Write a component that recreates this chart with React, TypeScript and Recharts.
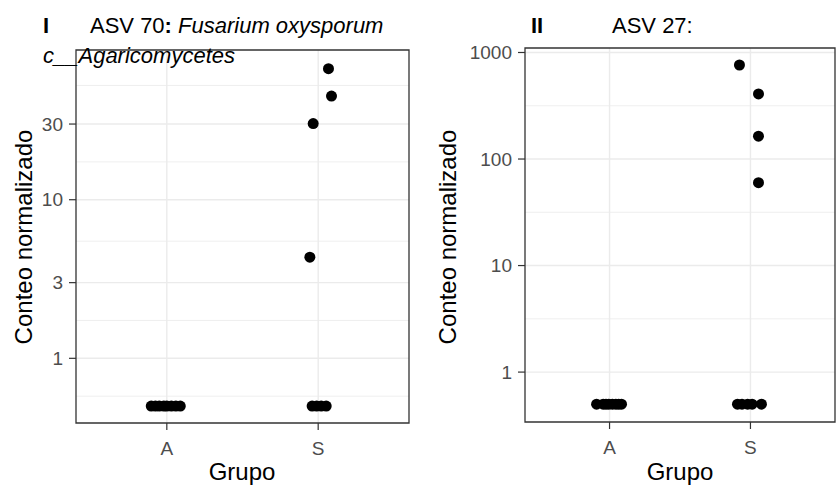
import {
  ScatterChart,
  Scatter,
  XAxis,
  YAxis,
  CartesianGrid,
  ReferenceArea,
} from "recharts";

const groups = ["A", "S"];

// ASV 70 (panel I)
const asv70JitterA = [-0.103, -0.075, -0.05, -0.02, 0.0, 0.03, 0.06, 0.089];
const asv70CountA = [0.5, 0.5, 0.5, 0.5, 0.5, 0.5, 0.5, 0.5];
const asv70JitterS = [0.068, 0.088, -0.033, -0.055, -0.04, -0.01, 0.02, 0.053];
const asv70CountS = [67, 45, 30.2, 4.34, 0.5, 0.5, 0.5, 0.5];
const asv70Ticks = [1, 3, 10, 30];
const asv70Minor = [0.577, 1.732, 5.477, 17.32, 52.5];
const asv70Domain = [0.391, 87.9];

// ASV 27 (panel II)
const asv27JitterA = [-0.092, -0.045, -0.025, -0.005, 0.02, 0.045, 0.065, 0.085];
const asv27CountA = [0.5, 0.5, 0.5, 0.5, 0.5, 0.5, 0.5, 0.5];
const asv27JitterS = [-0.078, 0.057, 0.057, 0.057, -0.092, -0.06, -0.02, 0.012, 0.078];
const asv27CountS = [763, 408, 164, 60, 0.5, 0.5, 0.5, 0.5, 0.5];
const asv27Ticks = [1, 10, 100, 1000];
const asv27Minor = [3.162, 31.62, 316.2];
const asv27Domain = [0.34, 1102];

const build = (group: number, jit: number[], vals: number[]) =>
  vals.map((v, i) => ({ x: group + 1 + jit[i], y: v }));

const Dot = (p: any) => <circle cx={p.cx} cy={p.cy} r={5.5} fill="#000" />;

const font = "'Liberation Sans', Arial, sans-serif";
const tickStyle = { fill: "#4D4D4D", fontSize: 19, fontFamily: font };

function Panel({ width, yWidth, top, bottom, right, domain, ticks, minor, data }: any) {
  return (
    <ScatterChart
      width={width}
      height={487}
      margin={{ top, right, bottom, left: 0 }}
    >
      <CartesianGrid
        stroke="#EBEBEB"
        strokeWidth={0.8}
        vertical={false}
        horizontalValues={minor}
      />
      <CartesianGrid
        stroke="#EBEBEB"
        strokeWidth={1.4}
        horizontalValues={ticks}
        verticalValues={[1, 2]}
      />
      <XAxis
        type="number"
        dataKey="x"
        domain={[0.4, 2.6]}
        ticks={[1, 2]}
        tickFormatter={(v: number) => groups[v - 1]}
        allowDataOverflow
        height={40}
        axisLine={false}
        tickSize={7}
        tickMargin={12}
        tickLine={{ stroke: "#333333", strokeWidth: 1.2 }}
        tick={tickStyle}
      />
      <YAxis
        type="number"
        dataKey="y"
        scale="log"
        domain={domain}
        ticks={ticks}
        allowDataOverflow
        width={yWidth}
        axisLine={false}
        tickSize={7}
        tickMargin={6}
        tickLine={{ stroke: "#333333", strokeWidth: 1.2 }}
        tick={tickStyle}
      />
      {data.map((d: any, i: number) => (
        <Scatter key={i} data={d} shape={Dot} isAnimationActive={false} />
      ))}
      <ReferenceArea
        x1={0.4}
        x2={2.6}
        y1={domain[0]}
        y2={domain[1]}
        fill="none"
        stroke="#333333"
        strokeWidth={1.3}
        ifOverflow="visible"
      />
    </ScatterChart>
  );
}

export default function App() {
  return (
    <div style={{ position: "absolute", left: 0, top: 0, width: 836, height: 487, background: "#fff" }}>
      <div style={{ position: "absolute", left: 0, top: 0 }}>
        <Panel
          width={420}
          yWidth={76}
          top={50}
          bottom={24}
          right={11}
          domain={asv70Domain}
          ticks={asv70Ticks}
          minor={asv70Minor}
          data={[build(0, asv70JitterA, asv70CountA), build(1, asv70JitterS, asv70CountS)]}
        />
      </div>
      <div style={{ position: "absolute", left: 420, top: 0 }}>
        <Panel
          width={416}
          yWidth={105}
          top={48}
          bottom={25}
          right={1}
          domain={asv27Domain}
          ticks={asv27Ticks}
          minor={asv27Minor}
          data={[build(0, asv27JitterA, asv27CountA), build(1, asv27JitterS, asv27CountS)]}
        />
      </div>
      <svg
        width={836}
        height={487}
        style={{ position: "absolute", left: 0, top: 0, pointerEvents: "none" }}
        fontFamily={font}
      >
        <text x={43} y={33} fontSize={22} fontWeight="bold">I</text>
        <text x={90} y={33} fontSize={22}>
          ASV 70<tspan fontWeight="bold">:</tspan>
          <tspan fontStyle="italic"> Fusarium oxysporum</tspan>
        </text>
        <text x={43} y={63} fontSize={22} fontStyle="italic">c__Agaricomycetes</text>
        <text x={531} y={33} fontSize={22} fontWeight="bold">II</text>
        <text x={612} y={33} fontSize={22}>ASV 27:</text>
        <text transform="translate(24,237) rotate(-90)" textAnchor="middle" dy="0.35em" fontSize={24} fill="#000">
          Conteo normalizado
        </text>
        <text transform="translate(448,237) rotate(-90)" textAnchor="middle" dy="0.35em" fontSize={24} fill="#000">
          Conteo normalizado
        </text>
        <text x={242} y={480} textAnchor="middle" fontSize={24}>Grupo</text>
        <text x={680} y={480} textAnchor="middle" fontSize={24}>Grupo</text>
      </svg>
    </div>
  );
}
